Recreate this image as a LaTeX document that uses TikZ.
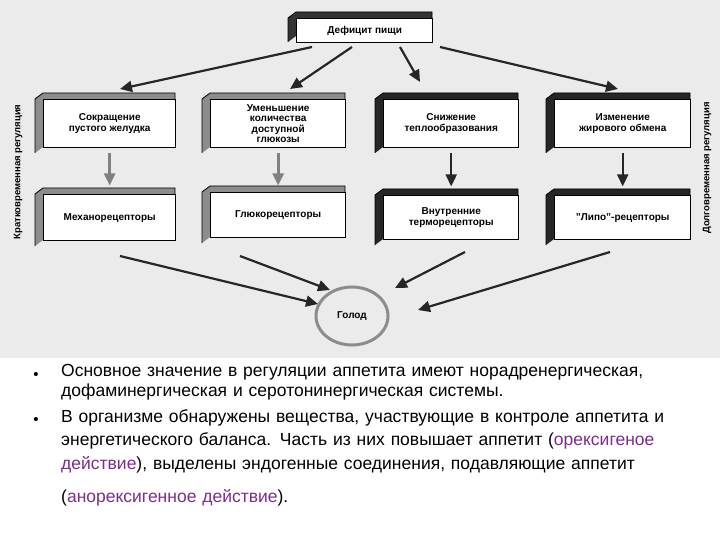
\documentclass[tikz,border=0pt]{standalone}
\usepackage{fontspec}
\setmainfont{Liberation Sans}
\usetikzlibrary{arrows.meta,shapes.geometric}
\definecolor{bg}{HTML}{EBEBEB}
\definecolor{pur}{HTML}{7B2C8F}
\tikzset{
 face/.style={draw=black,line width=1.4pt,fill=white,align=center,font=\bfseries\fontsize{10}{11}\selectfont,inner sep=0pt},
 blk/.style={->,>={Triangle[length=12pt,width=11pt]},line width=2.2pt,black!85},
 gry/.style={->,>={Triangle[length=12pt,width=11pt]},line width=2.6pt,black!50},
 btxt/.style={anchor=north west,align=left,font=\fontsize{17.5}{22}\selectfont,text width=655pt,inner sep=0pt}
}
\newcommand{\dbox}[6]{% name, x1,y1,x2,y2, text ; #6 side color
 \fill[#6] (#2,#3) -- (#2+8,#3-6) -- (#4,#3-6) -- (#4,#3) -- cycle;
 \fill[#6] (#2,#3) -- (#2+8,#3-6) -- (#2+8,#5-6) -- (#2,#5) -- cycle;
 \draw[black,line width=0.8pt] (#2,#5) -- (#2,#3) -- (#2+8,#3-6) -- (#4,#3-6) -- (#4,#3);
}
\begin{document}
\begin{tikzpicture}[x=1pt,y=-1pt]
\useasboundingbox (0,0) rectangle (720,540);
\fill[bg] (0,0) rectangle (720,358);
% top
\dbox{t}{288}{18}{432}{42}{black!80}
\node[face,minimum width=136pt,minimum height=24pt,anchor=north west] (t) at (296,18) {Дефицит пищи};
% row 1
\dbox{a}{35}{99}{175}{153}{black!45}
\node[face,minimum width=132pt,minimum height=48pt,anchor=north west] (a) at (43,99) {Сокращение\\пустого желудка};
\dbox{b}{202}{99}{345}{153}{black!45}
\node[face,minimum width=135pt,minimum height=48pt,anchor=north west,font=\bfseries\fontsize{10}{10.5}\selectfont] (b) at (210,99) {Уменьшение\\количества\\доступной\\глюкозы};
\dbox{c}{375}{99}{518}{153}{black!85}
\node[face,minimum width=135pt,minimum height=48pt,anchor=north west] (c) at (383,99) {Снижение\\теплообразования};
\dbox{d}{546}{99}{690}{153}{black!85}
\node[face,minimum width=136pt,minimum height=48pt,anchor=north west] (d) at (554,99) {Изменение\\жирового обмена};
% row 2
\dbox{e}{35}{194}{175}{246}{black!45}
\node[face,minimum width=132pt,minimum height=46pt,anchor=north west] (e) at (43,194) {Механорецепторы};
\dbox{f}{202}{192}{345}{243}{black!45}
\node[face,minimum width=135pt,minimum height=45pt,anchor=north west] (f) at (210,192) {Глюкорецепторы};
\dbox{g}{375}{195}{518}{245}{black!85}
\node[face,minimum width=135pt,minimum height=44pt,anchor=north west] (g) at (383,195) {Внутренние\\терморецепторы};
\dbox{h}{546}{195}{690}{245}{black!85}
\node[face,minimum width=136pt,minimum height=44pt,anchor=north west] (h) at (554,195) {"Липо"-рецепторы};
% circle
\node[draw=black!45,line width=3pt,ellipse,minimum width=72pt,minimum height=58pt,fill=bg,font=\bfseries\fontsize{10}{11}\selectfont] (o) at (352,316) {Голод};
% arrows
\coordinate (t1) at (312,47); \coordinate (t2) at (352,47); \coordinate (t3) at (400,47); \coordinate (t4) at (440,47);
\draw[blk] (t1) -- (120,89);
\draw[blk] (t2) -- (290,89);
\draw[blk] (t3) -- (420,82);
\draw[blk] (t4) -- (618,89);
\draw[gry] (a.south) ++(0,5) coordinate (a1) -- ++(0,32);
\draw[gry] (b.south) ++(0,5) coordinate (b1) -- ++(0,32);
\draw[blk] (c.south) ++(0,5) coordinate (c1) -- ++(0,33);
\draw[blk] (d.south) ++(0,5) coordinate (d1) -- ++(0,33);
\coordinate (e1) at (120,256); \coordinate (f1) at (240,256);
\coordinate (g1) at (465,252); \coordinate (h1) at (610,252);
\draw[blk] (e1) -- (318,304);
\draw[blk] (f1) -- (330,290);
\draw[blk] (g1) -- (395,288);
\draw[blk] (h1) -- (418,310);
% side labels
\node[rotate=90,font=\bfseries\fontsize{9.5}{10}\selectfont] (l) at (18,172) {Кратковременная регуляция};
\node[rotate=90,font=\bfseries\fontsize{9.5}{10}\selectfont] (r) at (707,168) {Долговременная регуляция};
% text
\node[font=\fontsize{15}{15}\selectfont] (b1x) at (36,376) {•};
\node[font=\fontsize{15}{15}\selectfont] (b2x) at (36,421) {•};
\node[btxt,font=\fontsize{17.5}{20}\selectfont] (p1) at (61,364) {Основное значение в регуляции аппетита имеют норадренергическая,\\дофаминергическая и серотонинергическая системы.};
\node[btxt,font=\fontsize{17.5}{23.5}\selectfont] (p2) at (61,409) {В организме обнаружены вещества, участвующие в контроле аппетита и\\энергетического баланса. Часть из них повышает аппетит (\textcolor{pur}{орексигеное}\\\textcolor{pur}{действие}), выделены эндогенные соединения, подавляющие аппетит};
\node[btxt] (p3) at (61,489) {(\textcolor{pur}{анорексигенное действие}).};
\end{tikzpicture}
\end{document}
